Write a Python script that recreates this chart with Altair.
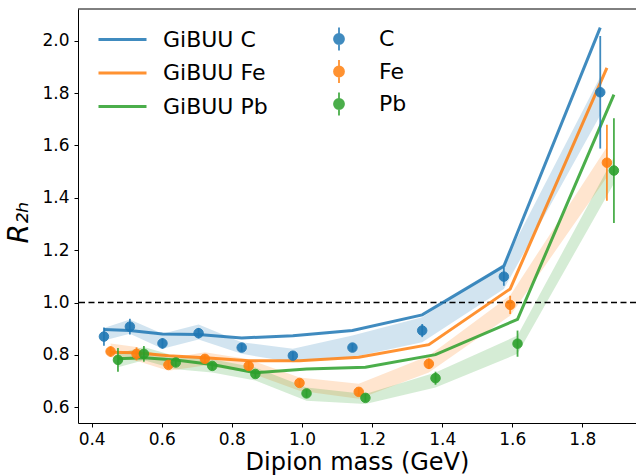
import altair as alt
import pandas as pd

# ---------------- data ----------------
nuclei = ["C", "Fe", "Pb"]
models = ["GiBUU C", "GiBUU Fe", "GiBUU Pb"]
colors = ["#1f77b4", "#ff7f0e", "#2ca02c"]

mass_C = [0.435, 0.509, 0.602, 0.705, 0.828, 0.974, 1.144, 1.343, 1.576, 1.851]
mass_Fe = [0.454, 0.528, 0.619, 0.723, 0.848, 0.993, 1.162, 1.362, 1.594, 1.870]
mass_Pb = [0.475, 0.549, 0.640, 0.744, 0.867, 1.013, 1.181, 1.381, 1.615, 1.890]

r_C = [0.870, 0.908, 0.844, 0.883, 0.828, 0.797, 0.828, 0.893, 1.099, 1.803]
r_Fe = [0.813, 0.804, 0.762, 0.785, 0.758, 0.693, 0.659, 0.766, 0.991, 1.534]
r_Pb = [0.781, 0.804, 0.771, 0.758, 0.727, 0.653, 0.636, 0.711, 0.843, 1.504]

err_C = [0.035, 0.030, 0.020, 0.020, 0.015, 0.015, 0.015, 0.025, 0.035, 0.215]
err_Fe = [0.020, 0.025, 0.015, 0.015, 0.015, 0.015, 0.015, 0.020, 0.035, 0.145]
err_Pb = [0.045, 0.030, 0.015, 0.015, 0.015, 0.015, 0.015, 0.025, 0.050, 0.200]

band_lo_C = [0.855, 0.881, 0.824, 0.859, 0.804, 0.772, 0.791, 0.848, 1.052, 1.715]
band_hi_C = [0.903, 0.935, 0.881, 0.916, 0.848, 0.824, 0.874, 0.944, 1.148, 1.862]
band_lo_Fe = [0.791, 0.778, 0.740, 0.760, 0.733, 0.663, 0.633, 0.733, 0.950, 1.479]
band_hi_Fe = [0.844, 0.830, 0.786, 0.810, 0.783, 0.714, 0.690, 0.797, 1.027, 1.594]
band_lo_Pb = [0.753, 0.780, 0.745, 0.733, 0.702, 0.625, 0.613, 0.676, 0.804, 1.455]
band_hi_Pb = [0.805, 0.830, 0.795, 0.783, 0.752, 0.676, 0.651, 0.733, 0.874, 1.555]

gibuu_C = [0.897, 0.893, 0.880, 0.878, 0.865, 0.873, 0.893, 0.953, 1.139, 2.050]
gibuu_Fe = [0.810, 0.808, 0.797, 0.789, 0.778, 0.778, 0.791, 0.839, 1.052, 1.896]
gibuu_Pb = [0.785, 0.789, 0.781, 0.763, 0.732, 0.746, 0.753, 0.801, 0.936, 1.794]

x_ticks = [0.4, 0.6, 0.8, 1.0, 1.2, 1.4, 1.6, 1.8]
y_ticks = [0.6, 0.8, 1.0, 1.2, 1.4, 1.6, 1.8, 2.0]
reference_level = [1.0]

# ---------------- table ----------------
rows = []
for nuc, model, m, r, e, lo, hi, g in zip(
    nuclei, models,
    [mass_C, mass_Fe, mass_Pb], [r_C, r_Fe, r_Pb], [err_C, err_Fe, err_Pb],
    [band_lo_C, band_lo_Fe, band_lo_Pb], [band_hi_C, band_hi_Fe, band_hi_Pb],
    [gibuu_C, gibuu_Fe, gibuu_Pb],
):
    for i in range(len(m)):
        rows.append(dict(nuc=nuc, model=model, mass=m[i], r=r[i],
                         rlo=r[i] - e[i], rhi=r[i] + e[i],
                         blo=lo[i], bhi=hi[i], gibuu=g[i]))
df = pd.DataFrame(rows)

W, H = 558, 414
FONT = "DejaVu Sans"

xscale = alt.Scale(domain=[0.361, 1.953], nice=False, zero=False)
yscale = alt.Scale(domain=[0.540, 2.121], nice=False, zero=False)
xaxis = alt.Axis(values=x_ticks, format=".1f", title="Dipion mass (GeV)")
yaxis = alt.Axis(values=y_ticks, format=".1f", title="R₂ₕ", titleFontStyle="italic")


def X(field="mass"):
    return alt.X(f"{field}:Q", scale=xscale, axis=xaxis)


def Y(field):
    return alt.Y(f"{field}:Q", scale=yscale, axis=yaxis)


base = alt.Chart(df)

# shaded bands
bands = []
for nuc, col in zip(nuclei, colors):
    bands.append(
        base.transform_filter(alt.datum.nuc == nuc)
        .mark_area(color=col, opacity=0.2)
        .encode(x=X(), y=Y("blo"), y2="bhi:Q")
    )

dashed = alt.Chart(pd.DataFrame({"lvl": reference_level})).mark_rule(
    color="black", strokeDash=[6, 3.5], strokeWidth=1.5
).encode(y=Y("lvl"))

legend_lines = alt.Legend(
    orient="none", legendX=31, legendY=17, title=None,
    symbolType="M-2,0L2,0", symbolSize=576, symbolStrokeWidth=3,
    labelFontSize=22, labelFont=FONT, labelColor="black", labelOffset=27,
    rowPadding=8.5, padding=0,
)
lines = base.mark_line(strokeWidth=3, opacity=0.85).encode(
    x=X(), y=Y("gibuu"),
    color=alt.Color("model:N", scale=alt.Scale(domain=models, range=colors), legend=legend_lines),
)

legend_points = alt.Legend(
    orient="none", legendX=250, legendY=19, title=None,
    symbolType="M-1,0A1,1,0,1,1,1,0A1,1,0,1,1,-1,0ZM0,-2.3L0,2.3",
    symbolSize=100, symbolStrokeWidth=1.8,
    labelFontSize=22, labelFont=FONT, labelColor="black", labelOffset=29,
    rowPadding=0.5, padding=0,
)
nuc_scale = alt.Scale(domain=nuclei, range=colors)

errbars = base.mark_rule(strokeWidth=1.8, opacity=0.85).encode(
    x=X(), y=Y("rlo"), y2="rhi:Q",
    stroke=alt.Stroke("nuc:N", scale=nuc_scale, legend=legend_points),
)

points = base.mark_point(filled=True, size=90, opacity=0.9, strokeWidth=1).encode(
    x=X(), y=Y("r"),
    fill=alt.Fill("nuc:N", scale=nuc_scale, legend=legend_points),
    stroke=alt.Stroke("nuc:N", scale=nuc_scale, legend=legend_points),
)

top_spine = alt.Chart(pd.DataFrame({"lvl": reference_level})).mark_rule(
    color="black", strokeWidth=1
).encode(x=alt.value(0), x2=alt.value(W), y=alt.value(0))

chart = alt.layer(*bands, dashed, lines, errbars, points, top_spine).properties(
    width=W, height=H,
    autosize=alt.AutoSizeParams(type="none"),
    padding={"left": 78, "top": 9, "right": 0, "bottom": 53},
).configure(font=FONT).configure_view(stroke=None).configure_axis(
    grid=False, domainColor="black", domainWidth=1, tickColor="black", tickSize=4,
    labelColor="black", titleColor="black", labelFontSize=17, titleFontSize=24,
    titleFontWeight="normal", labelFont=FONT, titleFont=FONT,
).configure_axisX(labelPadding=4, titlePadding=3).configure_axisY(
    labelPadding=5, titlePadding=8, titleFontSize=28, titleY=213
)

chart.save("out.html", embed_options={"renderer": "svg", "actions": False})
